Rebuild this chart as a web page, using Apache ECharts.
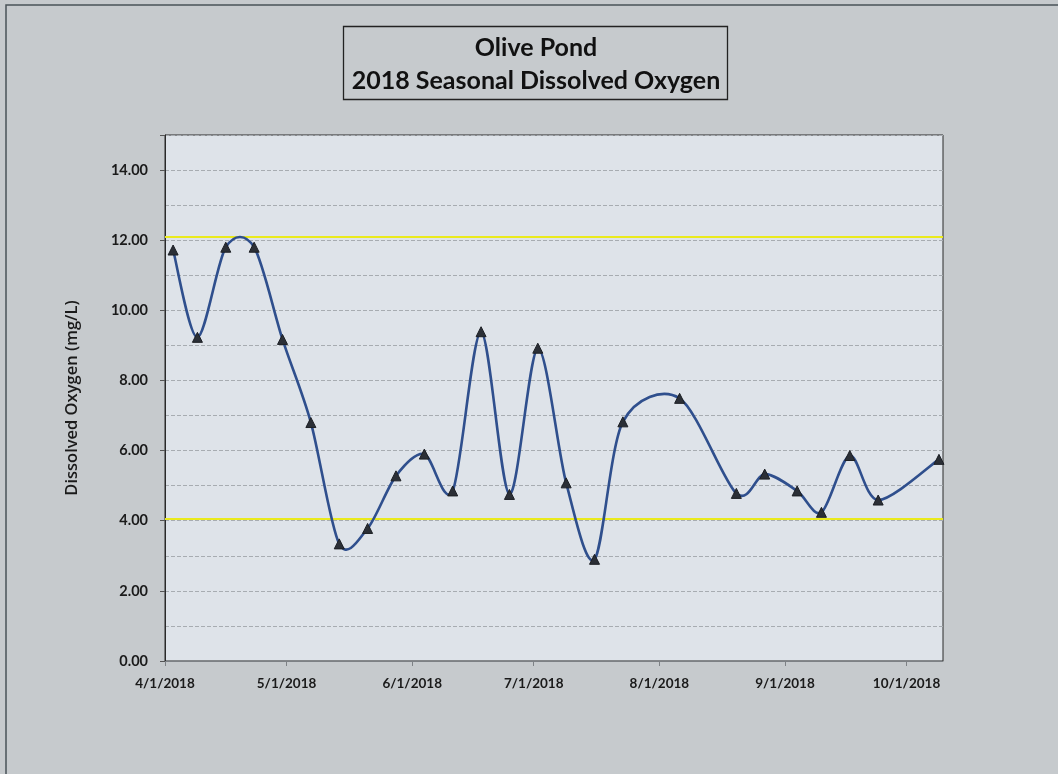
<!DOCTYPE html>
<html>
<head>
<meta charset="utf-8">
<script src="https://cdn.jsdelivr.net/npm/echarts@6/dist/echarts.min.js"></script>
<style>
html,body{margin:0;padding:0;background:#c6cacd;}
#chart{width:1058px;height:774px;}
</style>
</head>
<body>
<div id="chart"></div>
<script>
// ---- data ----
const sampleDates = ['2018-04-03','2018-04-09','2018-04-16','2018-04-23','2018-04-30',
  '2018-05-07','2018-05-14','2018-05-21','2018-05-28','2018-06-04','2018-06-11',
  '2018-06-18','2018-06-25','2018-07-02','2018-07-09','2018-07-16','2018-07-23',
  '2018-08-06','2018-08-20','2018-08-27','2018-09-04','2018-09-10','2018-09-17',
  '2018-09-24','2018-10-09'];
const dissolvedOxygen = [11.72,9.23,11.80,11.80,9.17,
  6.80,3.34,3.78,5.28,5.90,4.85,
  9.39,4.75,8.92,5.08,2.90,6.82,
  7.49,4.78,5.33,4.85,4.24,5.86,
  4.59,5.75];
const xTickDates = ['2018-04-01','2018-05-01','2018-06-01','2018-07-01','2018-08-01','2018-09-01','2018-10-01'];
const thresholds = [12.1, 4.05];
const titleLines = ['Olive Pond','2018 Seasonal Dissolved Oxygen'];
const yAxisTitle = 'Dissolved Oxygen (mg/L)';

const FONT = 'Lato';
function toTs(s){const p=s.split('-');return Date.UTC(+p[0],+p[1]-1,+p[2]);}
function fmtDate(v){const d=new Date(v);return (d.getUTCMonth()+1)+'/'+d.getUTCDate()+'/'+d.getUTCFullYear();}

const points = sampleDates.map((d,i)=>[toTs(d),dissolvedOxygen[i]]);
const N = points.length;

// Excel-style (Catmull-Rom) smoothed segment from point i to i+1, via the axis scales
function renderSegment(params, api){
  const i = params.dataIndex;
  if (i >= N-1) return null;
  const c = k => api.coord(points[Math.max(0,Math.min(N-1,k))]);
  const p0=c(i-1), p1=c(i), p2=c(i+1), p3=c(i+2);
  const t = 0.15;
  return {
    type:'bezierCurve',
    shape:{x1:p1[0],y1:p1[1],x2:p2[0],y2:p2[1],
      cpx1:p1[0]+(p2[0]-p0[0])*t, cpy1:p1[1]+(p2[1]-p0[1])*t,
      cpx2:p2[0]-(p3[0]-p1[0])*t, cpy2:p2[1]-(p3[1]-p1[1])*t},
    style:{stroke:'#2f4f8d',lineWidth:2.6,fill:null}
  };
}

const chart = echarts.init(document.getElementById('chart'), null, {renderer:'canvas'});
const option = {
  backgroundColor:'#c6cacd',
  animation:false,
  graphic:[
    {type:'rect',shape:{x:6,y:5,width:1100,height:800},style:{fill:'none',stroke:'#4a5358',lineWidth:1.5},silent:true},
    {type:'rect',shape:{x:343.5,y:26.5,width:384,height:73},style:{fill:'none',stroke:'#222',lineWidth:1.3},silent:true},
    {type:'text',x:536,y:48,style:{text:titleLines[0],font:'bold 25px '+FONT,fill:'#111',align:'center',verticalAlign:'middle'}},
    {type:'text',x:536,y:81,style:{text:titleLines[1],font:'bold 25px '+FONT,fill:'#111',align:'center',verticalAlign:'middle'}}
  ],
  grid:{left:165,top:135,right:115,bottom:113,show:true,backgroundColor:'#dee3e9',borderColor:'#2a2a2a',borderWidth:1,containLabel:false},
  xAxis:{
    type:'value',
    min:toTs('2018-04-01'),max:toTs('2018-10-10'),
    axisLine:{show:true,lineStyle:{color:'#7d8185',width:1}},
    axisTick:{show:true,length:5,lineStyle:{color:'#7d8185'},customValues:xTickDates.map(toTs)},
    axisLabel:{customValues:xTickDates.map(toTs),formatter:fmtDate,fontFamily:FONT,fontWeight:'bold',fontSize:13.5,color:'#1a1a1a',margin:16},
    splitLine:{show:false}
  },
  yAxis:[{
    type:'value',min:0,max:15,interval:1,position:'left',
    axisLine:{show:false},axisTick:{show:false},axisLabel:{show:false},
    splitLine:{show:true,lineStyle:{color:'#a7acb1',width:1,type:[4,2]}}
  },{
    type:'value',min:0,max:15,interval:2,position:'left',
    name:yAxisTitle,nameLocation:'middle',nameGap:84,nameRotate:90,
    nameTextStyle:{fontFamily:'Open Sans',fontSize:16.5,fontWeight:600,color:'#1a1a1a'},
    axisLine:{show:true,lineStyle:{color:'#2a2a2a',width:1}},
    axisTick:{show:true,length:5,lineStyle:{color:'#555'}},
    axisLabel:{formatter:function(v){return v>14?'':v.toFixed(2);},fontFamily:FONT,fontWeight:'bold',fontSize:14.5,color:'#1a1a1a',margin:17},
    splitLine:{show:false}
  }],
  series:[{
    type:'custom',
    yAxisIndex:0,
    data:points,
    renderItem:renderSegment,
    clip:false,
    z:4,
    markLine:{
      silent:true,symbol:['none','none'],label:{show:false},
      lineStyle:{color:'#eaea1c',width:2.2,type:'solid'},
      data:thresholds.map(v=>({yAxis:v})),
      z:3
    }
  },{
    type:'scatter',
    yAxisIndex:0,
    data:points,
    symbol:'triangle',symbolSize:10,
    itemStyle:{color:'#2b2f36',borderColor:'#1c1f24',borderWidth:1,opacity:1},
    clip:false,
    z:6
  }]
};
chart.setOption(option);
</script>
</body>
</html>
